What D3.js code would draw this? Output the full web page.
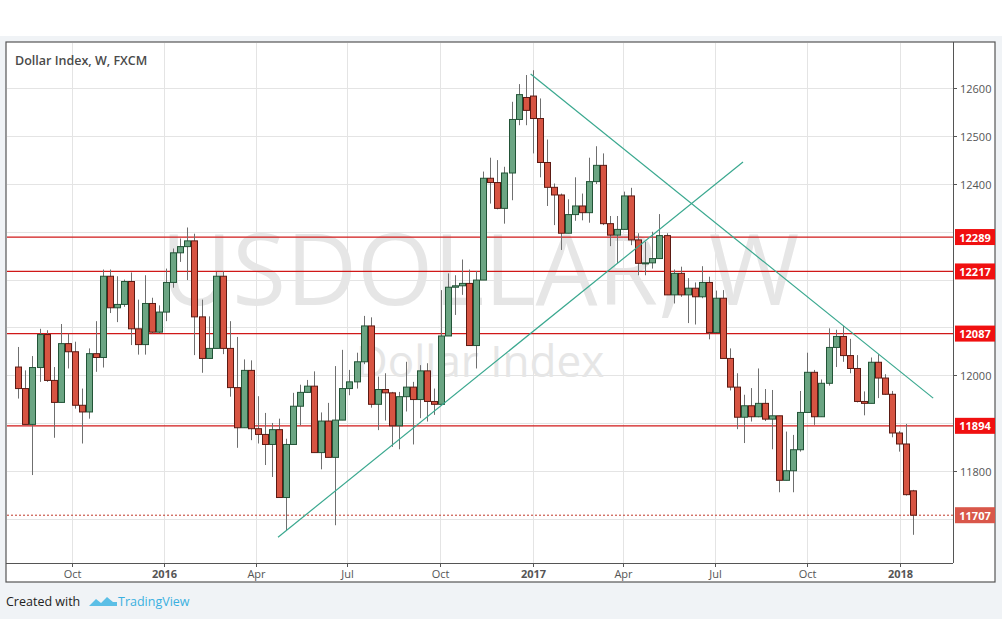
<!DOCTYPE html>
<html>
<head>
<meta charset="utf-8">
<script src="https://cdn.jsdelivr.net/npm/d3@7"></script>
<style>
body { margin: 0; background: #f0f3f6; font-family: "Open Sans", "DejaVu Sans", sans-serif; }
</style>
</head>
<body>
<div id="chart"></div>
<script>
var firstWeek = "2015-08-09";
var opens = [12017,11972,11897,12016,12085,11989,11943,12066,12049,11937,11923,12045,12037,12207,12141,12148,12196,12097,12064,12150,
	12090,12132,12194,12256,12269,12281,12122,12035,12056,12207,12056,11974,11890,12010,11888,11876,11855,11886,11744,11855,
	11935,11964,11977,11838,11904,11828,11906,11972,11986,12028,12103,11939,11970,11963,11894,11955,11975,11949,12009,11945,
	11939,12082,12184,12187,12192,12062,12199,12412,12403,12349,12423,12535,12581,12584,12537,12445,12393,12377,12297,12336,
	12354,12340,12405,12439,12317,12293,12305,12375,12283,12234,12235,12244,12292,12168,12213,12168,12182,12164,12194,12089,
	12161,12035,11975,11912,11936,11913,11941,11908,11915,11780,11800,11844,11922,12006,11913,11983,12058,12081,12041,12014,
	11945,11941,12027,11994,11960,11879,11856,11758];
var highs = [12059,12010,12040,12097,12094,12017,12107,12087,12070,11972,12056,12113,12221,12221,12207,12200,12215,12158,12209,12162,
	12146,12223,12265,12286,12309,12296,12158,12123,12216,12217,12113,12080,12033,12031,11956,11921,11900,11909,11867,11963,
	11980,11990,12008,11922,11942,12019,12053,12011,12047,12124,12121,11997,12004,11965,11965,12028,11986,12021,12025,11972,
	12178,12213,12209,12242,12221,12218,12426,12455,12450,12436,12572,12609,12628,12638,12579,12493,12401,12380,12368,12414,
	12380,12455,12479,12464,12333,12333,12384,12392,12297,12279,12300,12337,12297,12221,12227,12203,12194,12228,12206,12177,
	12178,12056,12004,11959,11973,12014,11971,11969,11915,11882,11875,11967,12047,12011,11991,12098,12095,12103,12076,12042,
	11966,12037,12044,12002,11967,11883,11898,11760];
var lows = [11951,11897,11791,11986,11986,11869,11943,12014,11930,11857,11909,12007,12016,12130,12111,12143,12063,12043,12043,12087,
	12088,12113,12183,12237,12199,12042,12005,12035,12056,12044,11955,11848,11890,11864,11857,11812,11787,11744,11676,11855,
	11895,11963,11838,11803,11828,11686,11906,11958,11972,12023,11932,11885,11905,11850,11845,11924,11855,11910,11903,11917,
	11939,12082,12126,12168,12062,12014,12199,12359,12347,12317,12366,12523,12523,12464,12414,12354,12314,12262,12297,12323,
	12324,12319,12400,12314,12270,12234,12304,12272,12209,12209,12223,12243,12168,12150,12164,12109,12106,12161,12075,12089,
	12035,11968,11887,11858,11903,11912,11904,11845,11755,11780,11755,11840,11922,11896,11913,11978,12017,12028,12004,11943,
	11916,11941,11952,11959,11870,11840,11748,11666];
var closes = [11972,11897,12016,12085,11989,11943,12066,12049,11937,11923,12045,12037,12207,12141,12148,12196,12097,12064,12150,12090,
	12132,12194,12256,12269,12281,12122,12035,12056,12207,12056,11974,11890,12010,11888,11876,11855,11886,11744,11855,11935,
	11964,11977,11838,11904,11828,11906,11972,11986,12028,12103,11939,11970,11963,11894,11955,11975,11949,12009,11945,11939,
	12082,12184,12187,12192,12062,12199,12412,12403,12349,12423,12535,12587,12554,12537,12445,12393,12377,12297,12336,12354,
	12340,12405,12439,12317,12293,12305,12375,12283,12234,12235,12244,12292,12168,12213,12168,12182,12164,12194,12089,12161,
	12035,11975,11912,11936,11913,11941,11908,11915,11780,11800,11844,11922,12006,11913,11983,12058,12081,12041,12014,11945,
	11941,12027,11994,11960,11879,11856,11750,11707];

var levels = [12289, 12217, 12087, 11894];
var lastPrice = 11707;
var yTicks = [11800, 12000, 12400, 12500, 12600];
var trendLines = [
	[["2016-04-23", 11661], ["2017-07-29", 12446]],
	[["2016-12-30", 12630], ["2018-02-03", 11952]]
];
var xTicks = [["2015-10-01", "Oct"], ["2016-01-01", "2016"], ["2016-04-01", "Apr"], ["2016-07-01", "Jul"], ["2016-10-01", "Oct"],
	["2017-01-01", "2017"], ["2017-04-01", "Apr"], ["2017-07-01", "Jul"], ["2017-10-01", "Oct"], ["2018-01-01", "2018"]];

var W = 1002, H = 619;
var plot = { left: 7, right: 953, top: 43, bottom: 563 };
var parse = d3.timeParse("%Y-%m-%d");

var start = parse(firstWeek);
var data = opens.map(function(o, i) {
	return { date: d3.timeDay.offset(start, i * 7), o: o, h: highs[i], l: lows[i], c: closes[i] };
});

var x = d3.scaleTime()
	.domain([parse("2016-01-01"), parse("2018-01-01")])
	.range([164.3, 900]);
var y = d3.scaleLinear()
	.domain([11607, 12695])
	.range([plot.bottom, plot.top]);

var svg = d3.select("#chart").append("svg")
	.attr("width", W).attr("height", H)
	.style("display", "block");

svg.append("rect").attr("width", W).attr("height", H).attr("fill", "#f0f3f6");
svg.append("rect").attr("x", 0).attr("y", 0).attr("width", W).attr("height", 36).attr("fill", "#fff");
svg.append("rect").attr("x", 6).attr("y", 42).attr("width", 989).attr("height", 540)
	.attr("fill", "#fff").attr("stroke", "#555").attr("stroke-width", 1.2);

var defs = svg.append("defs");
defs.append("clipPath").attr("id", "clip").append("rect")
	.attr("x", plot.left).attr("y", plot.top)
	.attr("width", plot.right - plot.left).attr("height", plot.bottom - plot.top);

// grid
var grid = svg.append("g");
d3.range(11700, 12700, 100).forEach(function(v) {
	grid.append("line").attr("x1", plot.left).attr("x2", plot.right)
		.attr("y1", Math.round(y(v)) + 0.5).attr("y2", Math.round(y(v)) + 0.5)
		.attr("stroke", "#e4e4e4");
});
xTicks.forEach(function(t) {
	var px = Math.round(x(parse(t[0]))) + 0.5;
	grid.append("line").attr("x1", px).attr("x2", px)
		.attr("y1", plot.top).attr("y2", plot.bottom).attr("stroke", "#e4e4e4");
	svg.append("line").attr("x1", px).attr("x2", px).attr("y1", plot.bottom).attr("y2", plot.bottom + 4).attr("stroke", "#555");
	svg.append("text").attr("x", px).attr("y", 578).attr("text-anchor", "middle")
		.attr("font-size", 11).attr("fill", "#555")
		.attr("font-weight", /^\d+$/.test(t[1]) ? "bold" : "normal")
		.text(t[1]);
});

// watermark
svg.append("text").attr("x", 480).attr("y", 305).attr("text-anchor", "middle")
	.attr("font-size", 98).attr("fill", "#e6e6e6").attr("font-family", "Open Sans, sans-serif")
	.text("USDOLLAR, W");
svg.append("text").attr("x", 480).attr("y", 377).attr("text-anchor", "middle")
	.attr("font-size", 44).attr("fill", "#e6e6e6").attr("font-family", "Open Sans, sans-serif")
	.text("Dollar Index");

// axes frame
svg.append("line").attr("x1", plot.right + 0.5).attr("x2", plot.right + 0.5).attr("y1", 42).attr("y2", plot.bottom).attr("stroke", "#555");
svg.append("line").attr("x1", 6).attr("x2", plot.right).attr("y1", plot.bottom + 0.5).attr("y2", plot.bottom + 0.5).attr("stroke", "#555");

yTicks.forEach(function(v) {
	var py = Math.round(y(v)) + 0.5;
	svg.append("line").attr("x1", plot.right).attr("x2", plot.right + 4).attr("y1", py).attr("y2", py).attr("stroke", "#555");
	svg.append("text").attr("x", 960).attr("y", py + 4).attr("font-size", 11).attr("fill", "#555").text(v);
});

svg.append("text").attr("x", 15).attr("y", 65).attr("font-size", 12.5).attr("font-weight", 600)
	.attr("fill", "#4a4a4a").text("Dollar Index, W, FXCM");

var g = svg.append("g").attr("clip-path", "url(#clip)");

// horizontal levels
levels.forEach(function(v) {
	g.append("line").attr("x1", plot.left).attr("x2", plot.right)
		.attr("y1", y(v)).attr("y2", y(v)).attr("stroke", "#d01818").attr("stroke-width", 1.3);
});
g.append("line").attr("x1", plot.left).attr("x2", plot.right)
	.attr("y1", y(lastPrice)).attr("y2", y(lastPrice))
	.attr("stroke", "#c0392b").attr("stroke-dasharray", "2,2");

// candles
var bw = 6;
var candles = g.selectAll(".candle").data(data).enter().append("g").attr("class", "candle");
candles.append("line")
	.attr("x1", d => Math.round(x(d.date)) + 0.5).attr("x2", d => Math.round(x(d.date)) + 0.5)
	.attr("y1", d => y(d.h)).attr("y2", d => y(d.l))
	.attr("stroke", "#6f6f6f");
candles.append("rect")
	.attr("x", d => Math.round(x(d.date)) - bw / 2 + 0.5)
	.attr("y", d => y(Math.max(d.o, d.c)))
	.attr("width", bw)
	.attr("height", d => Math.max(1, Math.abs(y(d.o) - y(d.c))))
	.attr("fill", d => d.c >= d.o ? "#6ba583" : "#d75442")
	.attr("stroke", d => d.c >= d.o ? "#225437" : "#5b1a13");

// trend lines
trendLines.forEach(function(t) {
	g.append("line")
		.attr("x1", x(parse(t[0][0]))).attr("y1", y(t[0][1]))
		.attr("x2", x(parse(t[1][0]))).attr("y2", y(t[1][1]))
		.attr("stroke", "#3aa88f").attr("stroke-width", 1.2);
});

// price labels
levels.concat([lastPrice]).forEach(function(v, i) {
	var py = y(v);
	var last = i === levels.length;
	svg.append("rect").attr("x", 955).attr("y", py - 8).attr("width", 40).attr("height", 16)
		.attr("fill", last ? "#d9574a" : "#f01010");
	svg.append("text").attr("x", 975).attr("y", py + 4.5).attr("text-anchor", "middle")
		.attr("font-size", 11).attr("font-weight", "bold").attr("fill", "#fff").text(v);
});

// footer
svg.append("text").attr("x", 6).attr("y", 606).attr("font-size", 12.5).attr("fill", "#222").text("Created with");
svg.append("path").attr("d", "M89,606 l7,-7 l5,4 l6,-6 l6,5 l4,0 l0,4 z").attr("fill", "#5bbfe6");
svg.append("text").attr("x", 118).attr("y", 606).attr("font-size", 12.5).attr("fill", "#3ab0e0").text("TradingView");
</script>
</body>
</html>
